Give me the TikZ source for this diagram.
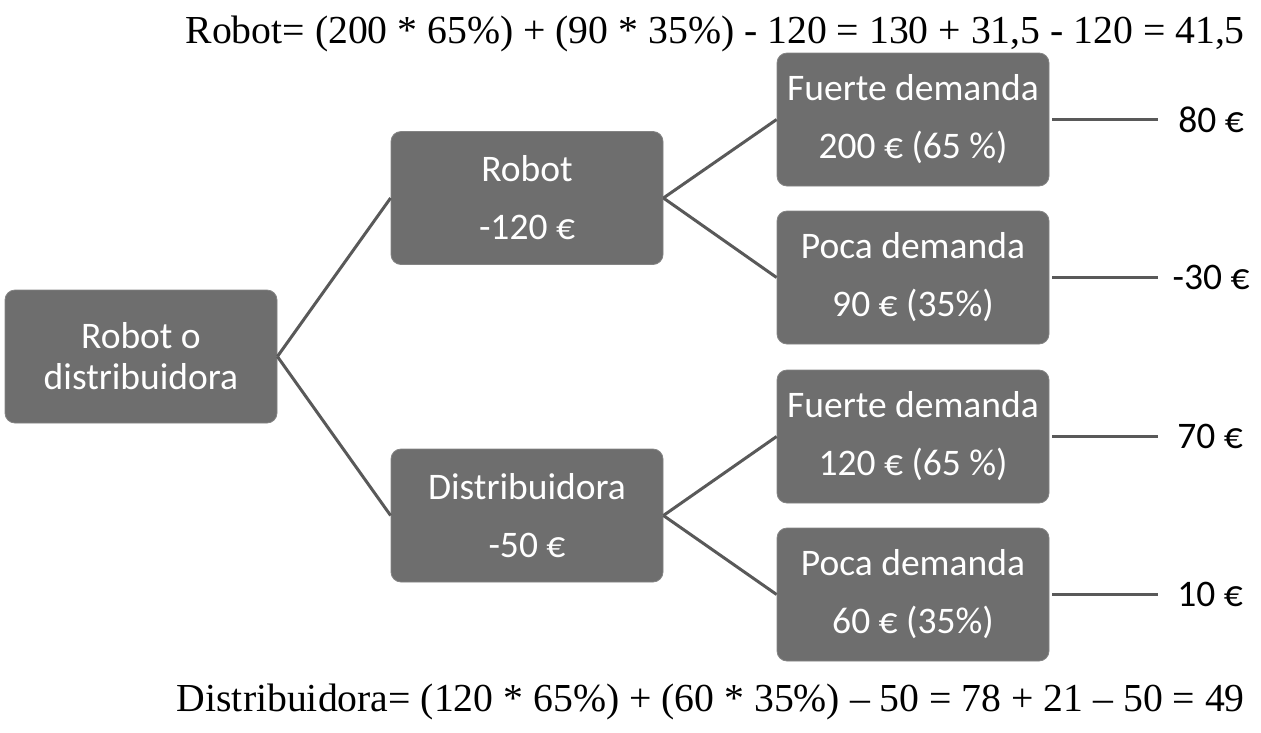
\documentclass[tikz,border=0pt]{standalone}
\usepackage{fontspec}
\setmainfont{Carlito}
\newfontfamily\formfont{Liberation Serif}
\definecolor{boxgray}{HTML}{6E6E6E}
\definecolor{linegray}{HTML}{595959}
\begin{document}
\begin{tikzpicture}[x=1pt,y=-1pt,
  box/.style={draw=boxgray!85!white, line width=0.8pt, fill=boxgray, rounded corners=10pt,
    minimum width=272pt, minimum height=133pt, inner sep=0pt, text=white, align=center,
    font=\fontsize{37.5}{58}\selectfont},
  rootbox/.style={box, font=\fontsize{37.5}{41}\selectfont},
  conn/.style={draw=linegray, line width=3pt},
  val/.style={font=\fontsize{37.5}{44}\selectfont, text=black, inner sep=0pt},
  formula/.style={font=\formfont\fontsize{39.7}{44}\selectfont, text=black, inner sep=0pt}]
\useasboundingbox (0,0) rectangle (1261,732);
\node[rootbox] (root) at (141,356.5) {Robot o\\distribuidora};
\node[box] (robot) at (527,198) {Robot\\-120 €};
\node[box] (dist) at (527,515.5) {Distribuidora\\-50 €};
\node[box] (f1) at (913,119.5) {Fuerte demanda\\200 € (65 \%)};
\node[box] (p1) at (913,277.5) {Poca demanda\\90 € (35\%)};
\node[box] (f2) at (913,436.5) {Fuerte demanda\\120 € (65 \%)};
\node[box] (p2) at (913,594.5) {Poca demanda\\60 € (35\%)};
\draw[conn] (root.east) -- (robot.west);
\draw[conn] (root.east) -- (dist.west);
\draw[conn] (robot.east) -- (f1.west);
\draw[conn] (robot.east) -- (p1.west);
\draw[conn] (dist.east) -- (f2.west);
\draw[conn] (dist.east) -- (p2.west);
\coordinate (e1) at (1158,119.5);
\coordinate (e2) at (1158,277.5);
\coordinate (e3) at (1158,436.5);
\coordinate (e4) at (1158,594.5);
\draw[conn] ([xshift=3pt]f1.east) -- (e1);
\draw[conn] ([xshift=3pt]p1.east) -- (e2);
\draw[conn] ([xshift=3pt]f2.east) -- (e3);
\draw[conn] ([xshift=3pt]p2.east) -- (e4);
\node[val] (v1) at (1211,119.5) {80 €};
\node[val] (v2) at (1211,277.5) {-30 €};
\node[val] (v3) at (1210,436.5) {70 €};
\node[val] (v4) at (1210,594.5) {10 €};
\node[formula, anchor=east] (top) at (1245,34) {Robot= (200 * 65\%) + (90 * 35\%) - 120 = 130 + 31,5 - 120 = 41,5};
\node[formula, anchor=east] (bot) at (1245,702) {Distribuidora= (120 * 65\%) + (60 * 35\%) – 50 = 78 + 21 – 50 = 49};
\end{tikzpicture}
\end{document}
